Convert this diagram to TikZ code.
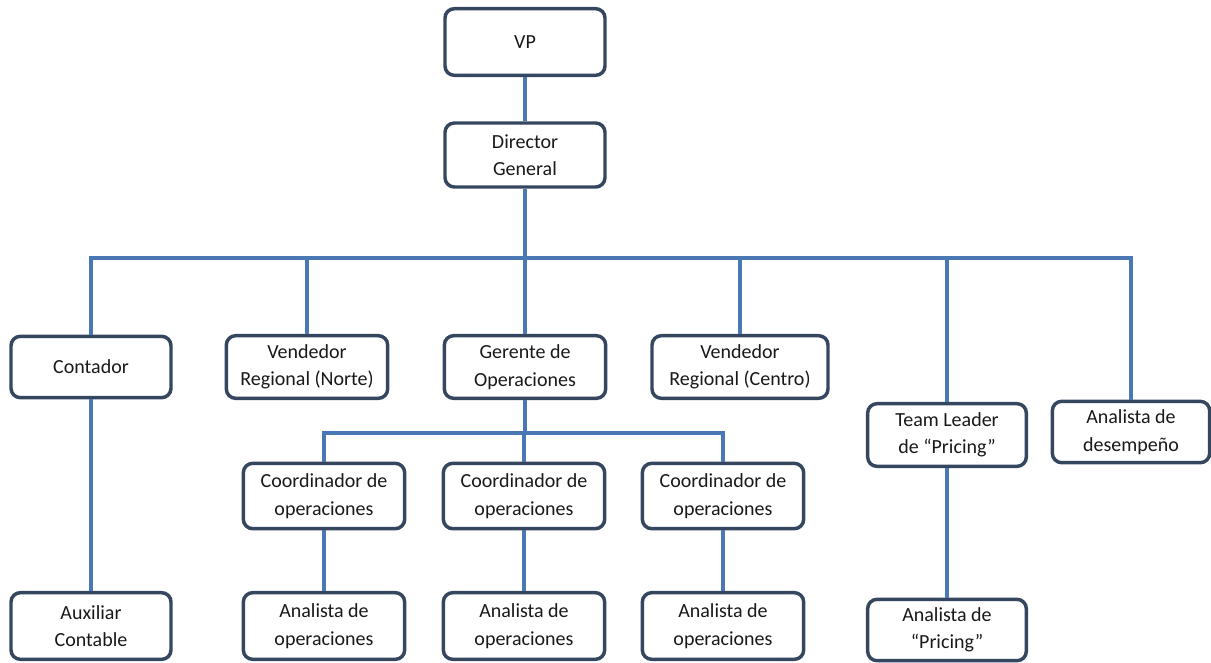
\documentclass[tikz,border=0pt]{standalone}
\usepackage{fontspec}
\setmainfont{Carlito}
\begin{document}
\begin{tikzpicture}[x=0.75pt,y=-0.75pt,
  box/.style={draw=boxc, line width=2.6pt, rounded corners=7pt, fill=white,
    align=center, inner sep=0pt, font=\fontsize{15}{20.5}\selectfont, text=black!90},
  conn/.style={draw=linec, line width=3pt}]
\definecolor{linec}{HTML}{4A78B5}
\definecolor{boxc}{HTML}{35465F}
\useasboundingbox (0,0) rectangle (1211,662);
% nodes
\node[box, minimum width=120pt, minimum height=50pt] (vp) at (525,42) {VP};
\node[box, minimum width=120pt, minimum height=48pt] (dg) at (525,155) {Director\\General};
\node[box, minimum width=120pt, minimum height=46pt] (cont) at (91,367) {Contador};
\node[box, minimum width=121pt, minimum height=47pt] (vn) at (307,367) {Vendedor\\Regional (Norte)};
\node[box, minimum width=121pt, minimum height=47pt] (ger) at (525,367) {Gerente de\\Operaciones};
\node[box, minimum width=132pt, minimum height=47pt] (vc) at (740,367) {Vendedor\\Regional (Centro)};
\node[box, minimum width=119pt, minimum height=47pt] (tl) at (947,435) {Team Leader\\de ``Pricing''};
\node[box, minimum width=118pt, minimum height=46pt] (ad) at (1131,432) {Analista de\\desempeño};
\node[box, minimum width=121pt, minimum height=49pt] (c1) at (324,496) {Coordinador de\\operaciones};
\node[box, minimum width=121pt, minimum height=49pt] (c2) at (524,496) {Coordinador de\\operaciones};
\node[box, minimum width=121pt, minimum height=49pt] (c3) at (723,496) {Coordinador de\\operaciones};
\node[box, minimum width=120pt, minimum height=50pt] (aux) at (91,626) {Auxiliar\\Contable};
\node[box, minimum width=121pt, minimum height=50pt] (a1) at (324,626) {Analista de\\operaciones};
\node[box, minimum width=121pt, minimum height=50pt] (a2) at (524,626) {Analista de\\operaciones};
\node[box, minimum width=121pt, minimum height=50pt] (a3) at (723,626) {Analista de\\operaciones};
\node[box, minimum width=119pt, minimum height=46pt] (ap) at (947,630) {Analista de\\``Pricing''};
% bus coordinates
\coordinate (bus) at (525,258);
\coordinate (sub) at (524,433);
% connectors
\path[conn] (vp.south) -- (dg.north);
\path[conn] (dg.south) -- (bus);
\path[conn] (cont.north) |- (bus) -| (ad.north);
\path[conn] (vn.north) -- (vn.north |- bus);
\path[conn] (ger.north) -- (bus);
\path[conn] (vc.north) -- (vc.north |- bus);
\path[conn] (tl.north) -- (tl.north |- bus);
\path[conn] (ger.south) -- (ger.south |- sub);
\path[conn] (c1.north) |- (sub) -| (c3.north);
\path[conn] (c2.north) -- (sub);
\path[conn] (cont.south) -- (aux.north);
\path[conn] (c1.south) -- (a1.north);
\path[conn] (c2.south) -- (a2.north);
\path[conn] (c3.south) -- (a3.north);
\path[conn] (tl.south) -- (ap.north);
\end{tikzpicture}
\end{document}
